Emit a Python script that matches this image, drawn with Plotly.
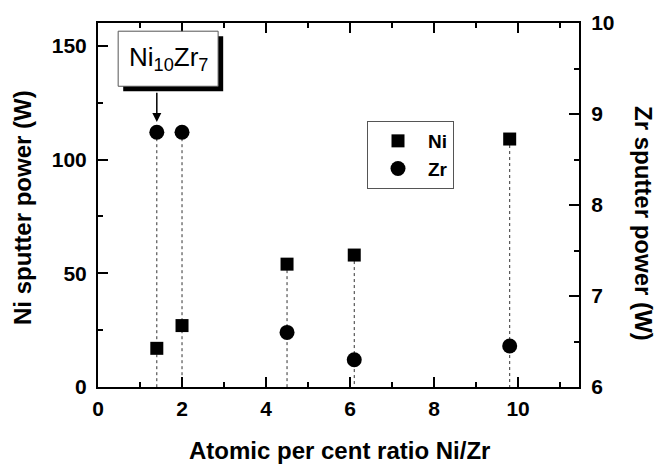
import plotly.graph_objects as go

# Composition ratio (atomic %, Ni/Zr) and sputter powers
ratio = [1.4, 2.0, 4.5, 6.1, 9.8]
ni_power = [17, 27, 54, 58, 109]        # W, left axis
zr_power = [8.8, 8.8, 6.6, 6.3, 6.45]   # W, right axis

x_ticks = [0, 2, 4, 6, 8, 10]
ni_ticks = [0, 50, 100, 150]
zr_ticks = [6, 7, 8, 9, 10]

NI_RANGE = [0, 160]
ZR_RANGE = [6, 10]
X_RANGE = [0, 11.45]

W, H = 659, 464
M_L, M_R, M_T, M_B = 98, 80, 23, 77
FONT = "Liberation Sans, Arial, sans-serif"


def zr_on_ni_scale(v):
    # map a right-axis value onto the left-axis scale
    return (v - ZR_RANGE[0]) / (ZR_RANGE[1] - ZR_RANGE[0]) * (NI_RANGE[1] - NI_RANGE[0]) + NI_RANGE[0]


def px_to_paper_y(py):
    return (H - M_B - py) / (H - M_T - M_B)


def px_to_paper_x(px):
    return (px - M_L) / (W - M_L - M_R)


# dotted drop lines from the upper marker down to the x axis
drop_x, drop_y = [], []
for r, n, z in zip(ratio, ni_power, zr_power):
    top = max(n, zr_on_ni_scale(z))
    drop_x += [r, r, None]
    drop_y += [top, 0, None]

fig = go.Figure()
fig.add_trace(go.Scatter(
    x=drop_x, y=drop_y, mode="lines",
    line=dict(color="#333333", width=1, dash="dot"),
    showlegend=False, hoverinfo="skip"))
fig.add_trace(go.Scatter(
    x=ratio, y=ni_power, mode="markers", name="Ni",
    marker=dict(symbol="square", size=13, color="black")))
fig.add_trace(go.Scatter(
    x=ratio, y=zr_power, mode="markers", name="Zr", yaxis="y2",
    marker=dict(symbol="circle", size=15, color="black")))

tick_font = dict(family=FONT, size=21, color="black", weight="bold")
title_font = dict(family=FONT, size=24, color="black", weight="bold")
minor_style = dict(ticks="inside", ticklen=5, tickwidth=2, tickcolor="black")

axis_common = dict(
    showline=True, linecolor="black", linewidth=2,
    ticks="inside", ticklen=10, tickwidth=2, tickcolor="black",
    showgrid=False, zeroline=False, tickfont=tick_font,
)

fig.update_layout(
    width=W, height=H,
    margin=dict(l=M_L, r=M_R, t=M_T, b=M_B),
    paper_bgcolor="white", plot_bgcolor="white",
    xaxis=dict(
        range=X_RANGE, tickvals=x_ticks, mirror="ticks", ticklabelstandoff=2,
        minor=dict(dtick=1, tick0=0, **minor_style),
        **axis_common),
    yaxis=dict(
        range=NI_RANGE, tickvals=ni_ticks, ticklabelstandoff=5,
        minor=dict(tickvals=[25, 75, 125], **minor_style),
        **axis_common),
    yaxis2=dict(
        range=ZR_RANGE, tickvals=zr_ticks, overlaying="y", side="right",
        ticklabelstandoff=6,
        minor=dict(tickvals=[6.5, 7.5, 8.5, 9.5], **minor_style),
        **axis_common),
    legend=dict(
        x=px_to_paper_x(367), y=px_to_paper_y(121), xanchor="left", yanchor="top",
        bordercolor="#555555", borderwidth=1, bgcolor="white",
        font=dict(family=FONT, size=19, color="black", weight="bold"),
        itemsizing="trace", itemwidth=50, entrywidth=40),
    showlegend=True,
)

# axis titles
fig.add_annotation(
    text="Atomic per cent ratio Ni/Zr", xref="paper", yref="paper",
    x=px_to_paper_x(339), y=px_to_paper_y(450), xanchor="center", yanchor="middle",
    showarrow=False, font=title_font)
fig.add_annotation(
    text="Ni sputter power (W)", xref="paper", yref="paper",
    x=px_to_paper_x(22), y=px_to_paper_y(208), xanchor="center", yanchor="middle",
    textangle=-90, showarrow=False, font=title_font)
fig.add_annotation(
    text="Zr sputter power (W)", xref="paper", yref="paper",
    x=px_to_paper_x(644), y=px_to_paper_y(223), xanchor="center", yanchor="middle",
    textangle=90, showarrow=False, font=title_font)

# label box with drop shadow
fig.add_shape(type="rect", xref="x", yref="y", x0=0.60, x1=2.98, y0=130.0, y1=154.2,
              fillcolor="black", line=dict(width=0), layer="above")
fig.add_shape(type="rect", xref="x", yref="y", x0=0.48, x1=2.86, y0=132.2, y1=156.4,
              fillcolor="white", line=dict(color="#555555", width=1), layer="above")
fig.add_annotation(
    text="Ni<sub>10</sub>Zr<sub>7</sub>", xref="x", yref="y", x=1.67, y=144.3,
    showarrow=False, font=dict(family=FONT, size=26, color="black"))
fig.add_annotation(
    text="", xref="x", yref="y", x=ratio[0], y=116.5, ax=ratio[0], ay=130.0,
    axref="x", ayref="y", showarrow=True, arrowhead=2, arrowsize=1.2,
    arrowwidth=1.5, arrowcolor="black")

fig.write_html("out.html")
